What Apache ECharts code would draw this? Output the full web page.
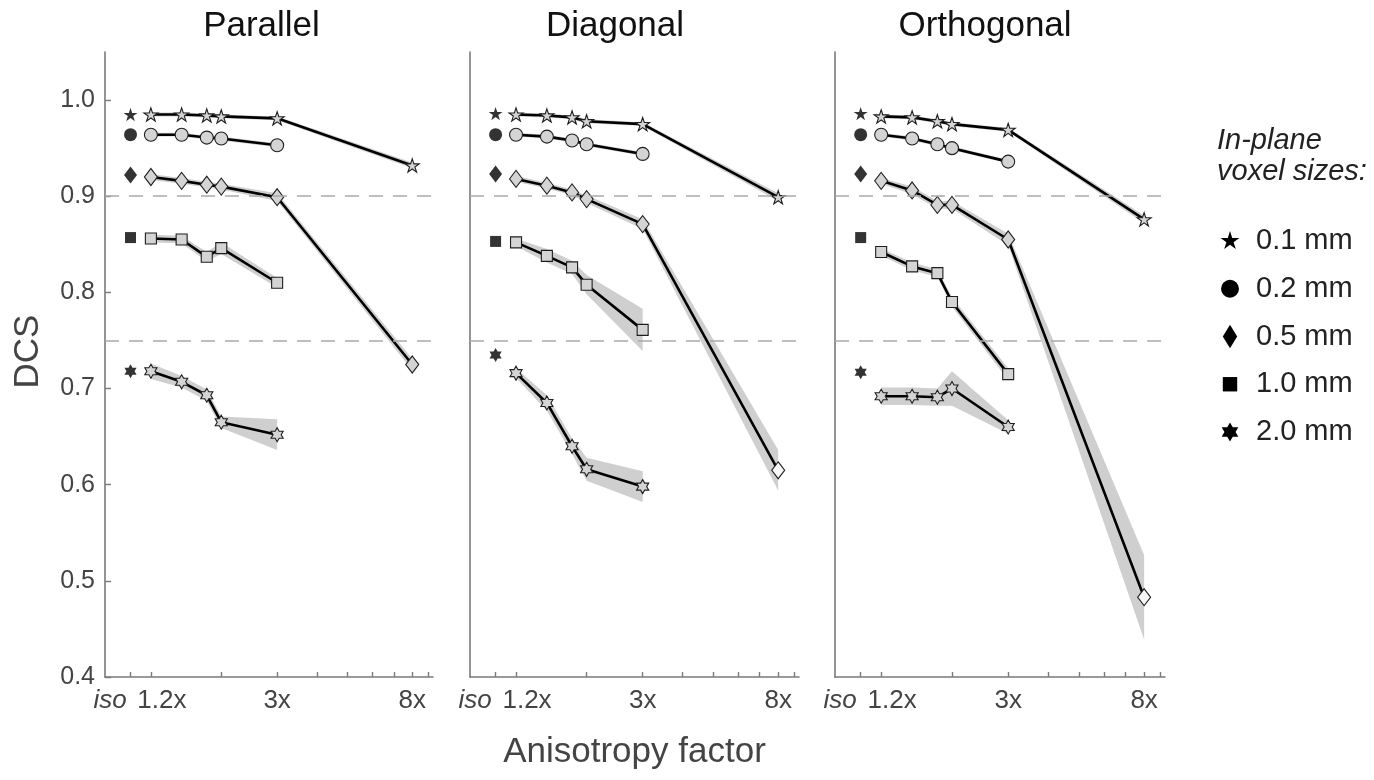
<!DOCTYPE html>
<html>
<head>
<meta charset="utf-8">
<script src="https://cdn.jsdelivr.net/npm/echarts@6/dist/echarts.min.js"></script>
<style>html,body{margin:0;padding:0;background:#fff}#c{width:1374px;height:780px}</style>
</head>
<body>
<div id="c"></div>
<script>
// ---------- data ----------
const panelTitles = ['Parallel', 'Diagonal', 'Orthogonal'];
const sizeNames = ['0.1 mm', '0.2 mm', '0.5 mm', '1.0 mm', '2.0 mm'];
const isoX = 1.035;
const factors = [1.2, 1.5, 1.8, 2, 3, 8];
const xTickValues = [isoX, 1.2, 2, 3, 4, 5, 6, 7, 8, 9];
const xLabelValues = [isoX, 1.2, 3, 8];
const xLabelTexts = ['iso', '1.2x', '3x', '8x'];
const yTickValues = [0.4, 0.5, 0.6, 0.7, 0.8, 0.9, 1.0];
const refLines = [0.9, 0.75];

// Parallel
const parIso = [0.985, 0.964, 0.922, 0.857, 0.718];
const par01 = [0.985, 0.985, 0.984, 0.983, 0.981, 0.932];
const par02 = [0.964, 0.964, 0.961, 0.960, 0.953];
const par05 = [0.920, 0.916, 0.912, 0.910, 0.899, 0.725];
const par10 = [0.856, 0.855, 0.837, 0.846, 0.810];
const par20 = [0.718, 0.707, 0.693, 0.665, 0.652];
const par01Ci = [0.002, 0.002, 0.002, 0.002, 0.002, 0.003];
const par02Ci = [0.002, 0.002, 0.002, 0.002, 0.002];
const par05Ci = [0.003, 0.003, 0.003, 0.003, 0.004, 0.006];
const par10Ci = [0.004, 0.004, 0.005, 0.006, 0.005];
const par20Ci = [0.008, 0.006, 0.006, 0.006, 0.016];

// Diagonal
const diaIso = [0.986, 0.964, 0.923, 0.853, 0.735];
const dia01 = [0.985, 0.984, 0.982, 0.978, 0.975, 0.899];
const dia02 = [0.964, 0.962, 0.958, 0.954, 0.944];
const dia05 = [0.918, 0.911, 0.904, 0.897, 0.871, 0.615];
const dia10 = [0.852, 0.838, 0.826, 0.808, 0.761];
const dia20 = [0.716, 0.685, 0.640, 0.616, 0.598];
const dia01Ci = [0.002, 0.002, 0.002, 0.002, 0.002, 0.004];
const dia02Ci = [0.002, 0.002, 0.002, 0.002, 0.002];
const dia05Ci = [0.003, 0.003, 0.003, 0.004, 0.005, 0.021];
const dia10Ci = [0.004, 0.007, 0.007, 0.010, 0.022];
const dia20Ci = [0.005, 0.008, 0.008, 0.012, 0.016];

// Orthogonal
const ortIso = [0.986, 0.964, 0.923, 0.857, 0.717];
const ort01 = [0.983, 0.982, 0.978, 0.975, 0.969, 0.876];
const ort02 = [0.964, 0.960, 0.954, 0.950, 0.936];
const ort05 = [0.916, 0.906, 0.891, 0.891, 0.855, 0.483];
const ort10 = [0.842, 0.827, 0.820, 0.790, 0.715];
const ort20 = [0.692, 0.692, 0.691, 0.700, 0.660];
const ort01Ci = [0.002, 0.002, 0.002, 0.002, 0.002, 0.004];
const ort02Ci = [0.002, 0.002, 0.002, 0.002, 0.002];
const ort05Ci = [0.003, 0.004, 0.004, 0.004, 0.006, 0.044];
const ort10Ci = [0.004, 0.004, 0.004, 0.005, 0.006];
const ort20Ci = [0.009, 0.009, 0.009, 0.018, 0.007];

const panelIso = [parIso, diaIso, ortIso];
const panelMeans = [
  [par01, par02, par05, par10, par20],
  [dia01, dia02, dia05, dia10, dia20],
  [ort01, ort02, ort05, ort10, ort20]
];
const panelCis = [
  [par01Ci, par02Ci, par05Ci, par10Ci, par20Ci],
  [dia01Ci, dia02Ci, dia05Ci, dia10Ci, dia20Ci],
  [ort01Ci, ort02Ci, ort05Ci, ort10Ci, ort20Ci]
];

// ---------- styling helpers ----------
const FONT = 'Liberation Sans';
function starPath(n, R, r, frame) {
  let d = frame ? 'M0 0 M100 100 ' : '';
  for (let i = 0; i < 2 * n; i++) {
    const rad = (i % 2 === 0) ? R : r;
    const a = -Math.PI / 2 + i * Math.PI / n;
    const x = 50 + rad * Math.cos(a), y = 50 + rad * Math.sin(a);
    d += (i === 0 ? 'M' : 'L') + x.toFixed(2) + ' ' + y.toFixed(2) + ' ';
  }
  return 'path://' + d + 'Z';
}
const STAR5 = starPath(5, 50, 19.1, false);
const HEX6 = starPath(6, 50, 28.87, false);
const seriesSymbols = [STAR5, 'circle', 'diamond', 'rect', HEX6];
const seriesSymbolSizes = [14, 13, [13, 17], 11, 14];

const legendIcons = [
  starPath(5, 33, 12.6, true),
  'path://M0 0 M100 100 M80 50 A30 30 0 1 1 20 50 A30 30 0 1 1 80 50 Z',
  'path://M0 0 M100 100 M50 11 L74 50 L50 89 L26 50 Z',
  'path://M0 0 M100 100 M26 26 L74 26 L74 74 L26 74 Z',
  starPath(6, 32, 18.5, true)
];

const gridLefts = [105, 470, 835];
const gridWidths = [328, 329, 330];

const grids = [], xAxes = [], yAxes = [], series = [];
for (let p = 0; p < 3; p++) {
  grids.push({ left: gridLefts[p], width: gridWidths[p], top: 52, height: 625 });
  xAxes.push({
    type: 'log', gridIndex: p, min: 0.86, max: 9.3,
    axisLine: { lineStyle: { color: '#7a7a7a', width: 1.6 } },
    axisTick: { inside: true, length: 5, customValues: xTickValues, lineStyle: { color: '#7a7a7a', width: 1.4 } },
    axisLabel: {
      customValues: xLabelValues, margin: 11, color: '#444', fontSize: 26, fontFamily: FONT,
      formatter: function (v) {
        let k = 0, best = 1e9;
        xLabelValues.forEach((xv, i) => { const dd = Math.abs(xv - v); if (dd < best) { best = dd; k = i; } });
        if (k === 0) return '{i|' + xLabelTexts[0] + '}';
        if (k === 1) return '{s|' + xLabelTexts[1] + '}';
        return xLabelTexts[k];
      },
      rich: {
        i: { fontStyle: 'italic', fontSize: 26, color: '#444', fontFamily: FONT, padding: [0, 41, 0, 0] },
        s: { fontSize: 26, color: '#444', fontFamily: FONT, padding: [0, 0, 0, 22] }
      }
    },
    splitLine: { show: false },
    minorTick: { show: false },
    name: p === 1 ? 'Anisotropy factor' : '',
    nameLocation: 'middle', nameGap: 58,
    nameTextStyle: { fontSize: 35, color: '#444', fontFamily: FONT }
  });
  yAxes.push({
    type: 'value', gridIndex: p, min: 0.4, max: 1.05,
    axisLine: { show: true, lineStyle: { color: '#7a7a7a', width: 1.6 } },
    axisTick: { show: p === 0, inside: true, length: 6, customValues: yTickValues, lineStyle: { color: '#7a7a7a', width: 1.4 } },
    axisLabel: {
      show: p === 0, customValues: yTickValues, margin: 10, color: '#444', fontSize: 25, fontFamily: FONT,
      formatter: v => v.toFixed(1)
    },
    splitLine: { show: false },
    name: p === 0 ? 'DCS' : '',
    nameLocation: 'middle', nameRotate: 90, nameGap: 59,
    nameTextStyle: { fontSize: 35, color: '#444', fontFamily: FONT, padding: [0, 0, 0, 26] }
  });

  for (let k = 0; k < 5; k++) {
    const mean = panelMeans[p][k], ci = panelCis[p][k];
    const band = mean.map((m, i) => [factors[i], m - ci[i], m + ci[i]]);
    series.push({
      type: 'custom', xAxisIndex: p, yAxisIndex: p, silent: true, z: 1,
      data: band,
      encode: { x: 0, y: [1, 2] },
      renderItem: function (params, api) {
        if (params.dataIndex !== 0) return null;
        const up = band.map(d => api.coord([d[0], d[2]]));
        const lo = band.map(d => api.coord([d[0], d[1]])).reverse();
        return { type: 'polygon', shape: { points: up.concat(lo) }, style: { fill: '#cfcfcf' } };
      }
    });
    const lineData = mean.map((m, i) => {
      const item = { value: [factors[i], m] };
      if (k === 2 && i === 5 && p > 0) item.itemStyle = { color: '#f6f6f6' };
      return item;
    });
    const s = {
      type: 'line', name: sizeNames[k], xAxisIndex: p, yAxisIndex: p, z: 3,
      data: lineData,
      symbol: seriesSymbols[k], symbolSize: seriesSymbolSizes[k], symbolKeepAspect: true,
      showAllSymbol: true,
      lineStyle: { color: '#000', width: 2.6 },
      itemStyle: { color: '#d4d4d4', borderColor: '#1e1e1e', borderWidth: 1.1 },
      emphasis: { disabled: true },
      animation: false
    };
    if (k === 0) {
      s.markLine = {
        silent: true, symbol: 'none', label: { show: false }, animation: false,
        lineStyle: { color: '#a9a9a9', type: [14, 10], width: 1.6 },
        data: refLines.map(v => ({ yAxis: v }))
      };
    }
    series.push(s);
    series.push({
      type: 'scatter', name: sizeNames[k], xAxisIndex: p, yAxisIndex: p, z: 3,
      data: [[isoX, panelIso[p][k]]],
      symbol: seriesSymbols[k], symbolSize: seriesSymbolSizes[k], symbolKeepAspect: true,
      itemStyle: { color: '#000' },
      emphasis: { disabled: true },
      animation: false
    });
  }
}

const titleCenters = [256.5, 610, 980];
const titles = panelTitles.map((t, i) => ({
  text: t, left: titleCenters[i], top: 4, textAlign: 'center',
  textStyle: { fontSize: 35, fontWeight: 'normal', color: '#111', fontFamily: FONT }
}));
titles.push({
  text: 'In-plane\nvoxel sizes:', left: 1212, top: 120,
  textStyle: { fontSize: 29, fontStyle: 'italic', fontWeight: 'normal', color: '#222', fontFamily: FONT, lineHeight: 31 }
});

const option = {
  animation: false,
  backgroundColor: '#fff',
  title: titles,
  grid: grids,
  xAxis: xAxes,
  yAxis: yAxes,
  legend: {
    orient: 'vertical', left: 1210, top: 221, selectedMode: false,
    itemWidth: 30, itemHeight: 30, itemGap: 17.75,
    textStyle: { fontSize: 29, color: '#222', fontFamily: FONT, lineHeight: 30, padding: [0, 0, 0, 6] },
    data: sizeNames.map((n, k) => ({ name: n, icon: legendIcons[k], itemStyle: { color: '#000', borderWidth: 0 } }))
  },
  series: series
};

const chart = echarts.init(document.getElementById('c'), null, { renderer: 'canvas' });
chart.setOption(option);
</script>
</body>
</html>
